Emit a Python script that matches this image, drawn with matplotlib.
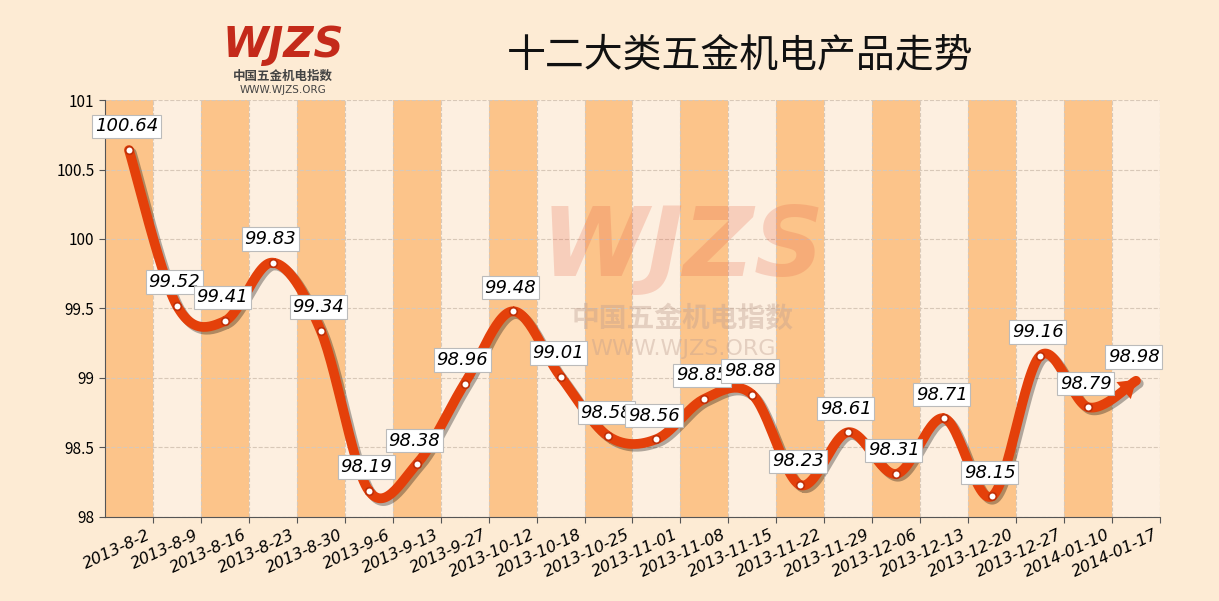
import numpy as np
import matplotlib
matplotlib.use("Agg")
import matplotlib.pyplot as plt
import matplotlib.patheffects as pe

plt.rcParams['font.family'] = ['Noto Sans CJK SC', 'DejaVu Sans']

dates = ["2013-8-2","2013-8-9","2013-8-16","2013-8-23","2013-8-30","2013-9-6","2013-9-13",
         "2013-9-27","2013-10-12","2013-10-18","2013-10-25","2013-11-01","2013-11-08",
         "2013-11-15","2013-11-22","2013-11-29","2013-12-06","2013-12-13","2013-12-20",
         "2013-12-27","2014-01-10","2014-01-17"]
values = [100.64,99.52,99.41,99.83,99.34,98.19,98.38,98.96,99.48,99.01,98.58,98.56,98.85,
          98.88,98.23,98.61,98.31,98.71,98.15,99.16,98.79,98.98]

fig = plt.figure(figsize=(12.19, 6.01), dpi=100)
fig.patch.set_facecolor('#fdebd4')
ax = fig.add_axes([0.0861, 0.1398, 0.8655, 0.6938])
n = len(values)
ax.set_xlim(0, n)
ax.set_ylim(98, 101)
ax.set_facecolor('#fdf0e2')
for i in range(n):
    ax.axvspan(i, i+1, color='#fcc48a' if i % 2 == 0 else '#fdefe0', lw=0, zorder=0)
ax.set_yticks(np.arange(98, 101.01, 0.5))
ax.set_yticklabels(['98','98.5','99','99.5','100','100.5','101'], fontsize=11)
ax.set_xticks(np.arange(1, n+1))
ax.set_xticklabels(dates, rotation=25, ha='right', fontsize=11.5, style='italic', family='DejaVu Sans')
ax.grid(True, ls='--', color='#d8c8b8', lw=0.8, zorder=1)
for s in ['top','right']:
    ax.spines[s].set_visible(False)
ax.spines['left'].set_color('#555')
ax.spines['bottom'].set_color('#555')
ax.tick_params(length=4, color='#555')

# watermark behind data
T = fig.transFigure
ax.text(0.56, 0.585, "WJZS", transform=T, fontsize=70, ha='center', va='center', color='#e45a3a', alpha=0.22,
        weight='bold', style='italic', family='DejaVu Sans', zorder=2)
ax.text(0.56, 0.47, "中国五金机电指数", transform=T, fontsize=20, ha='center', va='center', color='#c0a090', alpha=0.4, weight='bold', zorder=2)
ax.text(0.56, 0.42, "WWW.WJZS.ORG", transform=T, fontsize=16, ha='center', va='center', color='#c0a090', alpha=0.4, family='DejaVu Sans', zorder=2)

x = np.arange(n) + 0.5
y = np.array(values)
px = np.concatenate([[x[0]], x, [x[-1]]]); py = np.concatenate([[y[0]], y, [y[-1]]])
xs, ys = [], []
t = np.linspace(0, 1, 30)
for i in range(1, len(px)-2):
    for P, out in ((px, xs), (py, ys)):
        p0, p1, p2, p3 = P[i-1], P[i], P[i+1], P[i+2]
        out.extend(0.5*((2*p1) + (-p0+p2)*t + (2*p0-5*p1+4*p2-p3)*t**2 + (-p0+3*p1-3*p2+p3)*t**3))
xs = np.array(xs); ys = np.array(ys)
ax.plot(xs, ys, color='#e4400a', lw=7, solid_capstyle='round', zorder=3,
        path_effects=[pe.SimpleLineShadow(offset=(2, -2), alpha=0.3), pe.Normal()])
ax.annotate('', xy=(x[-1]+0.05, y[-1]+0.02), xytext=(xs[-8], ys[-8]),
            arrowprops=dict(arrowstyle='-|>,head_width=0.8,head_length=1.2', color='#e4400a', lw=0),
            zorder=4)
ax.scatter(x[:-1], y[:-1], s=30, facecolor='white', edgecolor='#c03008', lw=1.2, zorder=5)
for xi, yi in zip(x, y):
    ax.text(xi - 0.05, yi + 0.17, f"{yi:.2f}", ha='center', va='center', fontsize=13,
            style='italic', family='DejaVu Sans', zorder=6,
            bbox=dict(boxstyle='square,pad=0.15', fc='white', ec='#bbbbbb', lw=0.8))

fig.text(0.607, 0.908, "十二大类五金机电产品走势", fontsize=28, ha='center', va='center', color='#111')
fig.text(0.232, 0.925, "WJZS", fontsize=30, ha='center', va='center', color='#c42a1a',
         weight='bold', style='italic', family='DejaVu Sans')
fig.text(0.232, 0.873, "中国五金机电指数", fontsize=9, ha='center', va='center', color='#444', weight='bold')
fig.text(0.232, 0.850, "WWW.WJZS.ORG", fontsize=7.5, ha='center', va='center', color='#444', family='DejaVu Sans')

fig.savefig("out.png", dpi=100, facecolor=fig.get_facecolor())
